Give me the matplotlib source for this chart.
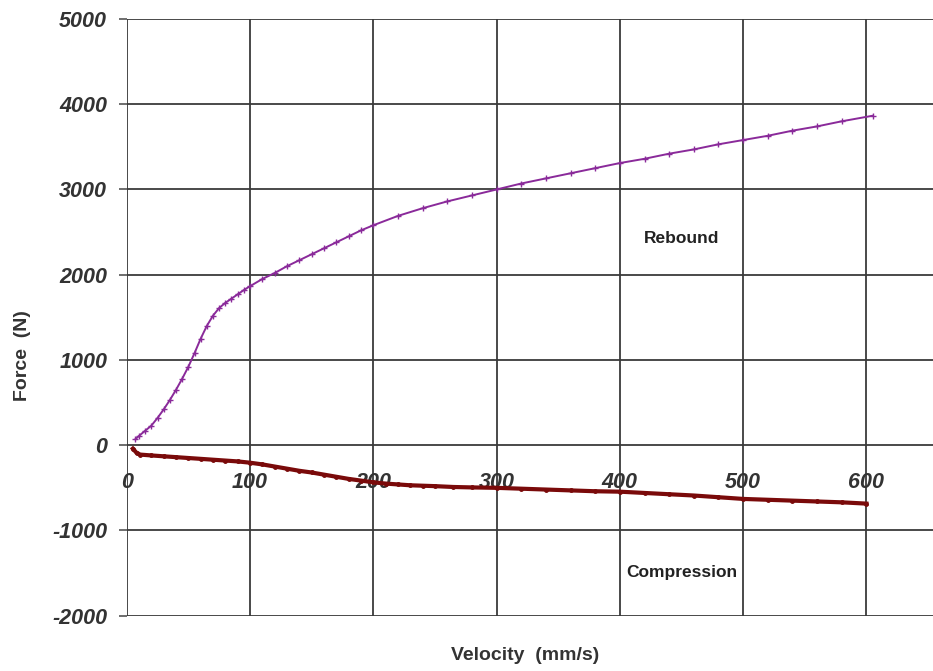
import matplotlib.pyplot as plt

# --- DATA ---
rebound_v = [7, 10, 15, 20, 25, 30, 35, 40, 45, 50, 55, 60, 65, 70, 75, 80, 85, 90, 95,
             100, 110, 120, 130, 140, 150, 160, 170, 180, 190, 200, 220, 240, 260, 280,
             300, 320, 340, 360, 380, 400, 420, 440, 460, 480, 500, 520, 540, 560, 580, 605]
rebound_f = [70, 110, 170, 230, 320, 420, 530, 650, 780, 920, 1080, 1250, 1400, 1520, 1610,
             1670, 1720, 1770, 1820, 1865, 1950, 2020, 2100, 2170, 2240, 2310, 2380, 2450,
             2520, 2580, 2690, 2780, 2860, 2930, 3000, 3070, 3130, 3190, 3250, 3310, 3360,
             3420, 3470, 3530, 3580, 3630, 3690, 3740, 3800, 3865]

compression_v = [5, 8, 11, 20, 30, 40, 50, 60, 70, 80, 90, 100, 110, 120, 130, 140, 150, 160,
                 170, 180, 190, 200, 210, 220, 230, 240, 250, 265, 280, 300, 320, 340, 360,
                 380, 400, 420, 440, 460, 480, 500, 520, 540, 560, 580, 600]
compression_f = [-40, -90, -110, -120, -130, -140, -150, -160, -170, -180, -190, -205, -225,
                 -250, -275, -300, -320, -345, -370, -395, -415, -435, -450, -460, -470, -475,
                 -480, -490, -495, -500, -510, -520, -530, -540, -545, -560, -575, -590, -610,
                 -630, -640, -650, -660, -670, -685]

x_ticks = [0, 100, 200, 300, 400, 500, 600]
y_ticks = [-2000, -1000, 0, 1000, 2000, 3000, 4000, 5000]

plt.rcParams['font.family'] = ['Liberation Sans', 'DejaVu Sans']

fig = plt.figure(figsize=(9.33, 6.71), dpi=100)
ax = fig.add_axes([0.1358, 0.0824, 0.8642, 0.8893])

ax.set_xlim(0, 654)
ax.set_ylim(-2000, 5000)

# grid
for xv in x_ticks:
    ax.axvline(xv, color='#3a3a3a', lw=1.3, zorder=1)
for yv in y_ticks:
    ax.axhline(yv, color='#3a3a3a', lw=1.3, zorder=1)

# series
ax.plot(rebound_v, rebound_f, color='#8a2a9a', lw=1.4, marker='+', ms=5, mew=1.0, zorder=3)
ax.plot(compression_v, compression_f, color='#7a0a0a', lw=3.0, marker='o', ms=2.5, zorder=3)

# axes styling
for s in ['top', 'right', 'left']:
    ax.spines[s].set_visible(False)
ax.spines['bottom'].set_position(('data', 0))
ax.spines['bottom'].set_visible(False)

ax.set_xticks(x_ticks)
ax.set_xticklabels([str(v) for v in x_ticks], fontsize=15.5, fontweight='bold',
                   fontstyle='italic', color='#333333')
ax.tick_params(axis='x', length=0, pad=19)

ax.set_yticks(y_ticks)
ax.set_yticklabels([str(v) for v in y_ticks], fontsize=15.5, fontweight='bold',
                   fontstyle='italic', color='#333333')
ax.tick_params(axis='y', length=6, width=1.2, color='#555555', pad=8)

ax.text(450, 2420, 'Rebound', fontsize=12.5, fontweight='bold', color='#222222',
        ha='center', va='center')
ax.text(450, -1490, 'Compression', fontsize=12.5, fontweight='bold', color='#222222',
        ha='center', va='center')

fig.text(0.5627, 0.023, 'Velocity  (mm/s)', fontsize=14, fontweight='bold', color='#333333',
         ha='center', va='center')
fig.text(0.024, 0.47, 'Force  (N)', fontsize=14, fontweight='bold', color='#333333',
         ha='center', va='center', rotation=90)

fig.savefig('out.png', dpi=100)
